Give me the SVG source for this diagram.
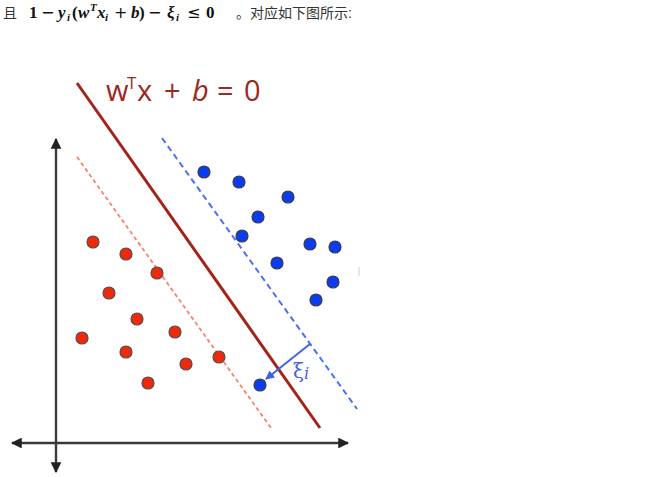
<svg xmlns="http://www.w3.org/2000/svg" width="667" height="477" viewBox="0 0 667 477">
<defs>
<style>
.ax{stroke:#3a3a3a;stroke-width:2.4;fill:none}
.red{fill:#ee2a0c;stroke:#5a4a48;stroke-width:1.2}
.blue{fill:#0b3cf0;stroke:#3a3a4a;stroke-width:1.2}
.math{font-family:"Liberation Serif","DejaVu Serif",serif;font-weight:bold;font-size:17px;fill:#111}
.mi{font-style:italic}
.op{font-family:"DejaVu Sans",sans-serif;font-weight:normal;font-size:16px}
.sub{font-size:11px;font-style:italic}
.cn{font-family:"Liberation Sans","Noto Sans CJK SC",sans-serif;font-size:14px;fill:#333}
.lab{font-family:"Open Sans","Liberation Sans",sans-serif;font-size:29px;fill:#9b2a1e}
</style>
<marker id="axh" viewBox="0 0 10 10" refX="9" refY="5" markerWidth="4.5" markerHeight="4.5" orient="auto-start-reverse" markerUnits="strokeWidth"><path d="M0,0L10,5L0,10z" fill="#222"/></marker>
<marker id="bh" viewBox="0 0 10 10" refX="9" refY="5" markerWidth="5" markerHeight="5" orient="auto" markerUnits="strokeWidth"><path d="M0,0L10,5L0,10z" fill="#3a5ef0"/></marker>
</defs>
<rect width="667" height="477" fill="#fff"/>
<g id="caption">
<text class="cn" x="3" y="18">且</text>
<text class="math" y="18"><tspan x="29">1</tspan><tspan x="41" class="op">−</tspan><tspan x="58" class="mi">y</tspan><tspan x="67" y="21" class="sub">i</tspan><tspan x="72" y="18">(</tspan><tspan x="78" class="mi">w</tspan><tspan x="90" y="11" class="sub">T</tspan><tspan x="97" y="18" class="mi">x</tspan><tspan x="105" y="21" class="sub">i</tspan><tspan x="114" y="18" class="op">+</tspan><tspan x="131" class="mi">b</tspan><tspan x="139">)</tspan><tspan x="148" class="op">−</tspan><tspan x="167" class="mi">ξ</tspan><tspan x="176" y="21" class="sub">i</tspan><tspan x="187" y="18" class="op">≤</tspan><tspan x="206">0</tspan></text>
<text class="cn" x="236" y="18">。对应如下图所示:</text>
</g>
<g id="axes">
<line class="ax" x1="56" y1="472" x2="56" y2="139" marker-start="url(#axh)" marker-end="url(#axh)"/>
<line class="ax" x1="12" y1="443" x2="348" y2="443" marker-start="url(#axh)" marker-end="url(#axh)"/>
</g>
<g id="connectors">
<line id="hyperplane" x1="77" y1="83" x2="320" y2="428" stroke="#a3231a" stroke-width="3"/>
<line id="margin-blue" x1="162" y1="138" x2="357" y2="409" stroke="#4a70f5" stroke-width="2" stroke-dasharray="6,4"/>
<line id="margin-red" x1="77" y1="157" x2="271" y2="428" stroke="#f7806e" stroke-width="1.8" stroke-dasharray="4,3"/>
<line id="xi-arrow" x1="310" y1="344" x2="266" y2="379" stroke="#3a5ef0" stroke-width="1.8" marker-end="url(#bh)"/>
<line x1="359" y1="267" x2="359" y2="276" stroke="#ccc" stroke-width="1"/>
</g>
<g id="label">
<text class="lab" y="101"><tspan x="106">w</tspan><tspan x="127" y="89" font-size="17">T</tspan><tspan x="137" y="101">x</tspan><tspan x="164">+</tspan><tspan x="192" font-style="italic">b</tspan><tspan x="217">=</tspan><tspan x="244">0</tspan></text>
<text x="293" y="378" font-family="DejaVu Serif,serif" font-size="20" fill="#4a5de0">ξ<tspan font-size="16" font-style="italic" dy="1">i</tspan></text>
</g>
<g id="red-points">
<circle class="red" cx="93" cy="242" r="6"/>
<circle class="red" cx="126" cy="254" r="6"/>
<circle class="red" cx="157" cy="273" r="6"/>
<circle class="red" cx="109" cy="293" r="6"/>
<circle class="red" cx="137" cy="319" r="6"/>
<circle class="red" cx="82" cy="338" r="6"/>
<circle class="red" cx="175" cy="332" r="6"/>
<circle class="red" cx="126" cy="352" r="6"/>
<circle class="red" cx="219" cy="357" r="6"/>
<circle class="red" cx="186" cy="364" r="6"/>
<circle class="red" cx="148" cy="383" r="6"/>
</g>
<g id="blue-points">
<circle class="blue" cx="204" cy="172" r="6"/>
<circle class="blue" cx="239" cy="182" r="6"/>
<circle class="blue" cx="288" cy="197" r="6"/>
<circle class="blue" cx="258" cy="217" r="6"/>
<circle class="blue" cx="242" cy="236" r="6"/>
<circle class="blue" cx="310" cy="244" r="6"/>
<circle class="blue" cx="335" cy="247" r="6"/>
<circle class="blue" cx="277" cy="263" r="6"/>
<circle class="blue" cx="333" cy="282" r="6"/>
<circle class="blue" cx="316" cy="300" r="6"/>
<circle class="blue" cx="260" cy="385" r="6"/>
</g>
</svg>
